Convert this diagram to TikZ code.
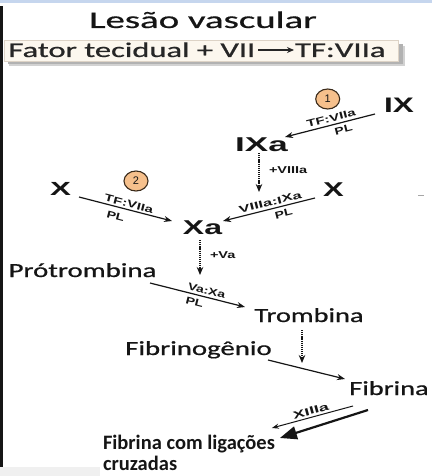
\documentclass[tikz,border=0pt]{standalone}
\usepackage{fontspec}
\setmainfont{Carlito}
\newfontfamily\calf{Carlito}[FakeBold=0.6]
\newfontfamily\arialf{Liberation Sans}
\usetikzlibrary{arrows.meta,calc,shapes.geometric}
\newcommand{\sx}[2]{\scalebox{#1}[1]{#2}}
\definecolor{boxfill}{HTML}{FCF7EE}
\definecolor{boxline}{HTML}{DDD3C6}
\definecolor{topband}{HTML}{C6D6EE}
\definecolor{numfill}{HTML}{F6C08C}
\definecolor{numline}{HTML}{3A2A1A}
\definecolor{ink}{HTML}{151515}
\begin{document}
\begin{tikzpicture}[x=1pt,y=-1pt,
  every node/.style={inner sep=0pt, outer sep=0pt, text=ink},
  big/.style={font=\arialf\bfseries\fontsize{20}{22}\selectfont},
  cal/.style={font=\calf\fontsize{20}{24}\selectfont},
  lab/.style={font=\arialf\bfseries\fontsize{10}{11}\selectfont},
  arr/.style={draw=ink, line width=1.2pt, -{Stealth[length=8pt,width=6pt]}},
  dotarr/.style={draw=ink, line width=1.6pt, dash pattern=on 1.2pt off 0.9pt, -{Stealth[length=8pt,width=6.5pt]}},
  num/.style={ellipse, draw=numline, fill=numfill, line width=1.1pt, minimum width=24pt, minimum height=20pt, font=\arialf\fontsize{11}{12}\selectfont}
]
\useasboundingbox (0,0) rectangle (432,476);
\fill[white] (0,0) rectangle (432,476);
% frame remnants
\fill[topband] (0,0) rectangle (432,3.5);
\fill[ink] (0,6) rectangle (3,467);
\fill[gray!12] (0,467) rectangle (100,476);
\draw[gray!70, line width=1pt] (418,195.5) -- (424,195.5);

% title
\node[font=\calf\fontsize{24}{28}\selectfont, anchor=base] (title) at (203,28) {\sx{1.62}{Lesão vascular}};

% box with shadow
\fill[gray!35] (9,46) rectangle (405,66);
\fill[gray!60] (8,44) rectangle (403,64);
\filldraw[fill=boxfill, draw=boxline, line width=0.5pt] (4,40) rectangle (398,61);
\node[anchor=base west, font=\calf\fontsize{21}{24}\selectfont, text=black!85] (ftv) at (8.5,57) {\sx{1.55}{Fator tecidual + VII}};
\node[anchor=base west, font=\calf\fontsize{21}{24}\selectfont, text=black!85] (tfv) at (295,57) {\sx{1.56}{TF:VIIa}};
\draw[draw=black!85, line width=1.2pt, -{Stealth[length=7pt,width=6pt]}] ($(ftv.base east)+(3,-7)$) -- ($(tfv.base west)+(-1,-7)$);

% numbered circles
\node[num] (c1) at (327.7,99) {1};
\node[num] (c2) at (136,181) {2};

% factor labels
\node[big, font=\arialf\bfseries\fontsize{21}{22}\selectfont] (IX) at (399,105) {\sx{1.5}{IX}};
\node[big] (IXa) at (261.5,145) {\sx{1.75}{IXa}};
\node[big, font=\arialf\bfseries\fontsize{19}{22}\selectfont] (XL) at (60.5,188.5) {\sx{1.65}{X}};
\node[big] (XR) at (333.5,189.5) {\sx{1.55}{X}};
\node[big] (Xa) at (202.5,227.5) {\sx{1.6}{Xa}};

\node[cal, anchor=base] (pro) at (82.5,277) {\sx{1.44}{Prótrombina}};
\node[cal, anchor=base] (tro) at (309,322) {\sx{1.42}{Trombina}};
\node[cal, anchor=base] (fbg) at (198.5,355) {\sx{1.44}{Fibrinogênio}};
\node[cal, anchor=base] (fib) at (389,395) {\sx{1.42}{Fibrina}};
\node[anchor=base west, font=\bfseries\fontsize{20.5}{24}\selectfont] (fcl1) at (103,449) {Fibrina com ligações};
\node[anchor=base west, font=\bfseries\fontsize{20.5}{24}\selectfont] (fcl2) at (103,470) {cruzadas};

% connectors
\draw[arr] ($(IX)+(-24,9)$) -- ($(IXa)+(23.5,-8)$)
  node[lab, sloped, pos=0.47, above=3pt] {\sx{1.5}{TF:VIIa}}
  node[lab, sloped, pos=0.37, below=4pt] {\sx{1.4}{PL}};

\coordinate (d1e) at (259,192);
\draw[dotarr] ($(IXa)+(-2.5,8)$) -- (d1e)
  node[lab, pos=0.44, right=10pt] {\sx{1.45}{+VIIIa}};

\draw[arr] ($(XR)+(-18.5,8.5)$) -- ($(Xa)+(20.5,-6.5)$)
  node[lab, sloped, pos=0.47, above=3pt] {\sx{1.65}{VIIIa:IXa}}
  node[lab, sloped, pos=0.36, below=4pt] {\sx{1.4}{PL}};

\draw[arr] ($(XL)+(18.5,8.5)$) -- ($(Xa)+(-30.5,-6.5)$)
  node[lab, sloped, pos=0.52, above=2.5pt] {\sx{1.5}{TF:VIIa}}
  node[lab, sloped, pos=0.42, below=6pt] {\sx{1.4}{PL}};

\coordinate (d2e) at (200,275);
\draw[dotarr] ($(Xa)+(-2.5,12.5)$) -- (d2e)
  node[lab, pos=0.43, right=10pt] {\sx{1.45}{+Va}};

\draw[arr] ($(pro.base)+(67.5,6)$) -- ($(tro.base)+(-64,-15)$)
  node[lab, sloped, pos=0.58, above=3pt] {\sx{1.4}{Va:Xa}}
  node[lab, sloped, pos=0.49, below=4.5pt] {\sx{1.4}{PL}};

\coordinate (d3e) at (302,363);
\draw[dotarr] ($(tro.base)+(-7,8)$) -- (d3e);

\draw[arr] ($(fbg.base)+(69.5,5)$) -- ($(fib.base)+(-44,-16)$);

\draw[draw=ink, line width=1pt, -{Stealth[length=7pt,width=5pt]}] ($(fib.base)+(-36,11)$) -- ($(fcl1.base east)+(-3,-21)$)
  node[lab, sloped, pos=0.5, above=2.5pt, font=\arialf\bfseries\fontsize{10.5}{11}\selectfont] {\sx{1.7}{XIIIa}};

\draw[draw=ink, line width=2.2pt, -{Triangle[length=17pt,width=13pt]}] ($(fib.base)+(-21,15)$) -- ($(fcl1.base east)+(5,-11)$);
\end{tikzpicture}
\end{document}
